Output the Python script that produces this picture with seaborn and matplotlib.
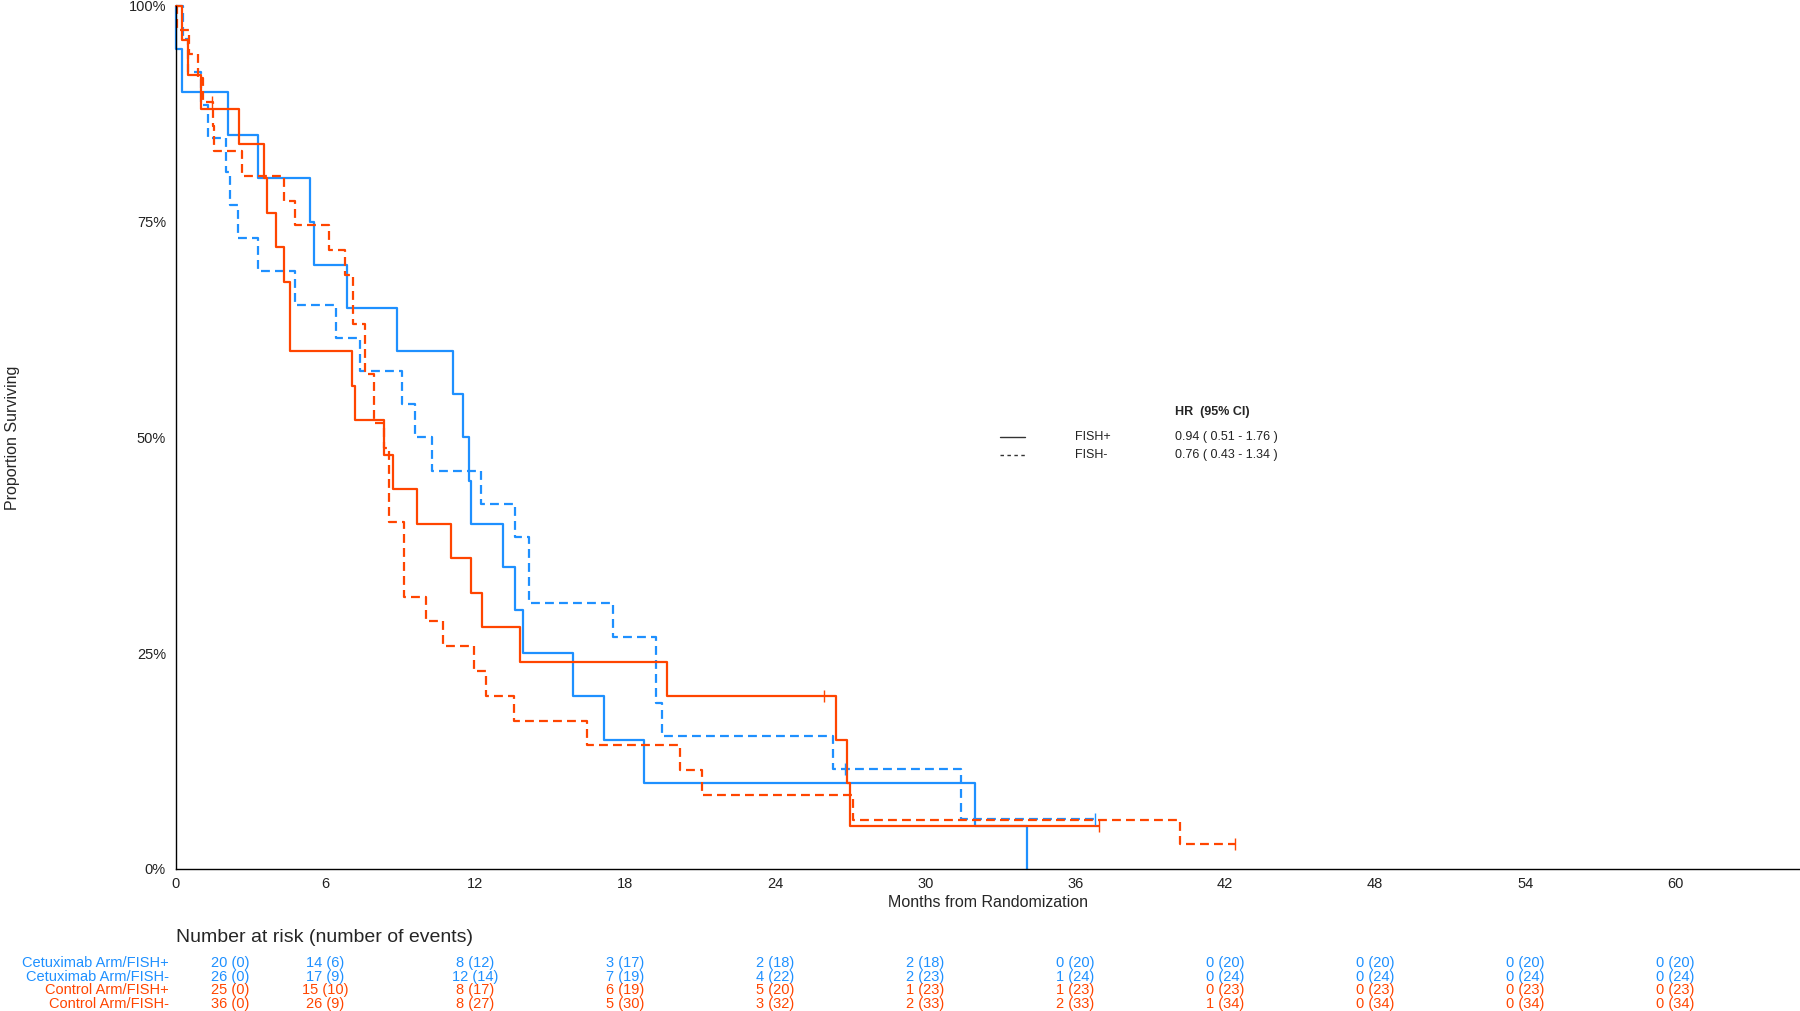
import pandas as pd
import seaborn as sns
import matplotlib.pyplot as plt
from matplotlib.lines import Line2D
from matplotlib.transforms import blended_transform_factory

# Kaplan-Meier steps (months, % surviving)
cet_pos_t = [0, 0.02, 0.26, 2.11, 3.29, 5.38, 5.54, 6.85, 8.85, 11.1, 11.52, 11.75, 11.82,
             13.12, 13.57, 13.9, 15.9, 17.16, 18.73, 32.0, 34.05]
cet_pos_s = [100, 95, 90, 85, 80, 75, 70, 65, 60, 55, 50, 45, 40,
             35, 30, 25, 20, 15, 10, 5, 0]

cet_neg_t = [0, 0.31, 0.48, 1.02, 1.28, 2.02, 2.18, 2.51, 3.31, 4.78, 6.42, 7.36, 9.05, 9.57,
             10.26, 12.22, 13.59, 14.13, 17.5, 19.24, 19.47, 26.3, 31.43, 36.8]
cet_neg_s = [100, 96.15, 92.31, 88.46, 84.62, 80.77, 76.92, 73.08, 69.23, 65.38, 61.54, 57.69, 53.85, 50.0,
             46.15, 42.31, 38.46, 30.77, 26.92, 19.23, 15.38, 11.54, 5.77, 5.77]

ctl_pos_t = [0, 0.26, 0.51, 1.02, 2.53, 3.52, 3.65, 4.0, 4.32, 4.58, 7.05, 7.16, 8.32, 8.69,
             9.65, 11.02, 11.82, 12.28, 13.79, 19.67, 26.42, 26.87, 26.98, 36.94]
ctl_pos_s = [100, 96, 92, 88, 84, 80, 76, 72, 68, 60, 56, 52, 48, 44,
             40, 36, 32, 28, 24, 20, 15, 10, 5, 5]

ctl_neg_t = [0, 0.04, 0.52, 0.88, 1.08, 1.50, 1.55, 2.65, 4.32, 4.78, 6.12, 6.78, 7.08, 7.58, 7.95,
             8.35, 8.52, 9.12, 10.03, 10.69, 11.93, 12.41, 13.54, 16.46, 20.18, 21.08, 27.1, 40.2, 42.39]
ctl_neg_s = [100, 97.22, 94.44, 91.67, 88.89, 86.02, 83.15, 80.29, 77.42, 74.55, 71.68, 68.82, 63.08, 57.35, 51.61,
             48.75, 40.14, 31.54, 28.67, 25.81, 22.94, 20.07, 17.20, 14.34, 11.47, 8.60, 5.73, 2.87, 2.87]

# censored observations
cet_neg_cens_t = [26.8, 36.8]
cet_neg_cens_s = [11.54, 5.77]
ctl_pos_cens_t = [25.94, 36.94]
ctl_pos_cens_s = [20, 5]
ctl_neg_cens_t = [1.45, 42.39]
ctl_neg_cens_s = [88.89, 2.87]

# risk table
risk_months = [0, 6, 12, 18, 24, 30, 36, 42, 48, 54, 60]
risk_labels = ['Cetuximab Arm/FISH+', 'Cetuximab Arm/FISH-', 'Control Arm/FISH+', 'Control Arm/FISH-']
cet_pos_risk = [20, 14, 8, 3, 2, 2, 0, 0, 0, 0, 0]
cet_pos_ev = [0, 6, 12, 17, 18, 18, 20, 20, 20, 20, 20]
cet_neg_risk = [26, 17, 12, 7, 4, 2, 1, 0, 0, 0, 0]
cet_neg_ev = [0, 9, 14, 19, 22, 23, 24, 24, 24, 24, 24]
ctl_pos_risk = [25, 15, 8, 6, 5, 1, 1, 0, 0, 0, 0]
ctl_pos_ev = [0, 10, 17, 19, 20, 23, 23, 23, 23, 23, 23]
ctl_neg_risk = [36, 26, 8, 5, 3, 2, 2, 1, 0, 0, 0]
ctl_neg_ev = [0, 9, 27, 30, 32, 33, 33, 34, 34, 34, 34]

hr_groups = ['FISH+', 'FISH-']
hr_text = ['0.94 ( 0.51 - 1.76 )', '0.76 ( 0.43 - 1.34 )']

BLUE = '#1E90FF'
RED = '#FF4500'

sns.set_style('white')
plt.rcParams['font.family'] = ['Liberation Sans', 'DejaVu Sans']

frames = []
for arm, fish, t, s in [('Cetuximab', 'FISH+', cet_pos_t, cet_pos_s),
                        ('Cetuximab', 'FISH-', cet_neg_t, cet_neg_s),
                        ('Control', 'FISH+', ctl_pos_t, ctl_pos_s),
                        ('Control', 'FISH-', ctl_neg_t, ctl_neg_s)]:
    frames.append(pd.DataFrame({'arm': arm, 'fish': fish, 'month': t, 'surv': s}))
df = pd.concat(frames, ignore_index=True)

fig = plt.figure(figsize=(18, 10.11), dpi=100)
ax = fig.add_axes([175.6 / 1800, 142 / 1011, 1624.4 / 1800, 863.3 / 1011])

sns.lineplot(data=df, x='month', y='surv', hue='arm', style='fish', estimator=None,
             palette={'Cetuximab': BLUE, 'Control': RED},
             dashes={'FISH+': '', 'FISH-': (4, 2.3)},
             drawstyle='steps-post', lw=1.6, legend=False, ax=ax)
for ln in ax.lines:
    ln.set_clip_on(False)

for ct, cs, col in [(cet_neg_cens_t, cet_neg_cens_s, BLUE),
                    (ctl_pos_cens_t, ctl_pos_cens_s, RED),
                    (ctl_neg_cens_t, ctl_neg_cens_s, RED)]:
    ax.plot(ct, cs, marker='|', ls='none', ms=8.5, mew=1, color=col, clip_on=False)

ax.set_xlim(0, 65)
ax.set_ylim(0, 100)
ax.set_xticks(risk_months)
ax.set_yticks([0, 25, 50, 75, 100])
ax.set_yticklabels(['0%', '25%', '50%', '75%', '100%'])
ax.tick_params(axis='both', direction='out', length=4, width=1, color='black',
               labelsize=10.5, labelcolor='#222222', pad=3)
ax.tick_params(axis='x', pad=1.5)
for side in ['top', 'right']:
    ax.spines[side].set_visible(False)
for side in ['left', 'bottom']:
    ax.spines[side].set_color('black')
    ax.spines[side].set_linewidth(1)

ax.set_xlabel('Months from Randomization', fontsize=11.5)
ax.xaxis.set_label_coords(0.5, -0.03)
ax.set_ylabel('Proportion Surviving', fontsize=11.5)
ax.yaxis.set_label_coords(-0.096, 0.5)

# HR legend
fig.text(1175 / 1800, 1 - 412.5 / 1011, 'HR  (95% CI)', fontsize=9, fontweight='bold', va='center')
for i, (grp, txt) in enumerate(zip(hr_groups, hr_text)):
    yy = 1 - (436.7 + 18.3 * i) / 1011
    fig.lines.append(Line2D([1000 / 1800, 1025 / 1800], [yy, yy], transform=fig.transFigure,
                            color='#333333', lw=1, ls='-' if i == 0 else (0, (2.5, 2.5))))
    fig.text(1075 / 1800, yy, grp, fontsize=9, va='center', color='#222222')
    fig.text(1175 / 1800, yy, txt, fontsize=9, va='center', color='#222222')

# number at risk table
fig.text(175.6 / 1800, 1 - 941.5 / 1011, 'Number at risk (number of events)', fontsize=14, va='baseline')
trans = blended_transform_factory(ax.transData, fig.transFigure)
rows = [(cet_pos_risk, cet_pos_ev, BLUE), (cet_neg_risk, cet_neg_ev, BLUE),
        (ctl_pos_risk, ctl_pos_ev, RED), (ctl_neg_risk, ctl_neg_ev, RED)]
for i, (lab, (risk, ev, col)) in enumerate(zip(risk_labels, rows)):
    yy = 1 - (963 + 13.6 * i) / 1011
    ax.text(-0.26, yy, lab, transform=trans, ha='right', va='center', fontsize=10.5, color=col)
    for m, r, e in zip(risk_months, risk, ev):
        xpos = m if m > 0 else 2.2
        ax.text(xpos, yy, f'{r} ({e})', transform=trans, ha='center', va='center',
                fontsize=10.5, color=col)

fig.savefig('out.png', dpi=100)
